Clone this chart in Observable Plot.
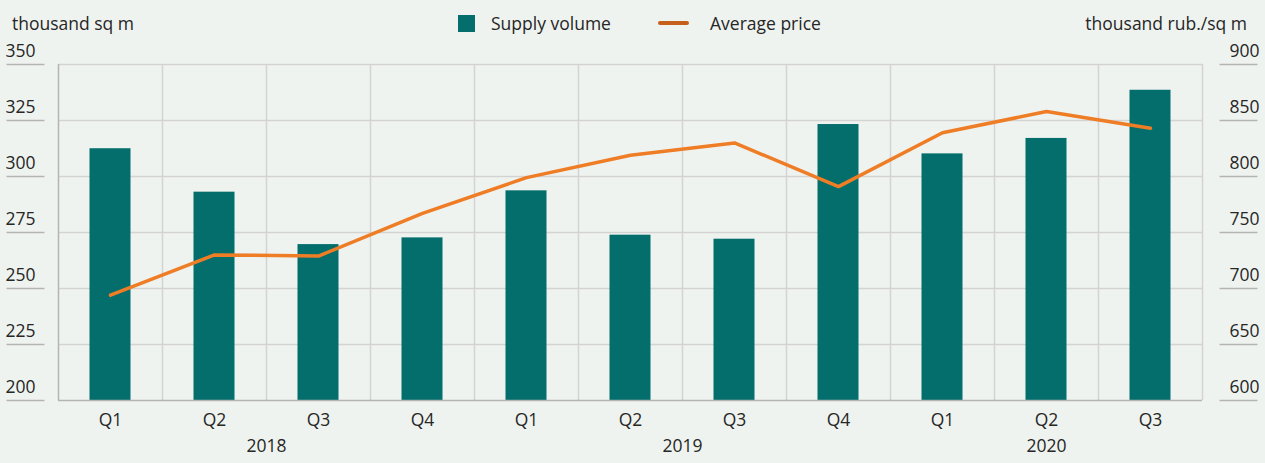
<!DOCTYPE html>
<html>
<head>
<meta charset="utf-8">
<script src="https://cdn.jsdelivr.net/npm/d3@7"></script>
<script src="https://cdn.jsdelivr.net/npm/@observablehq/plot@0.6"></script>
<style>
  html, body { margin: 0; padding: 0; background: #eff3ef; }
  body { width: 1265px; height: 463px; position: relative; overflow: hidden;
         font-family: "Open Sans", "Noto Sans", sans-serif; color: #262626; }
  #header { position: relative; height: 34px; font-size: 17.5px; }
  #header .t { position: absolute; top: 11px; line-height: 24px; white-space: nowrap; }
  #leftTitle { left: 12px; }
  #rightTitle { right: 18px; }
  .sw-bar { position: absolute; left: 458px; top: 15px; width: 17px; height: 17px; }
  .sw-line { position: absolute; left: 658px; top: 21px; width: 31px; height: 4px; border-radius: 2px; }
  #legA { left: 491px; }
  #legB { left: 710px; }
  #chart svg { display: block; overflow: visible; }
</style>
</head>
<body>
<div id="header">
  <div class="t" id="leftTitle"></div>
  <div class="sw-bar" id="swBar"></div>
  <div class="t" id="legA"></div>
  <div class="sw-line" id="swLine"></div>
  <div class="t" id="legB"></div>
  <div class="t" id="rightTitle"></div>
</div>
<div id="chart"></div>
<script>
// ---- data ----
const quarters = ["Q1","Q2","Q3","Q4","Q1","Q2","Q3","Q4","Q1","Q2","Q3"];
const years    = [2018,2018,2018,2018,2019,2019,2019,2019,2020,2020,2020];
const supply   = [312.4, 293.0, 269.6, 272.6, 293.6, 273.8, 272.0, 323.2, 310.1, 317.0, 338.5];
const price    = [694, 730, 729, 767, 799, 819, 830, 791, 839, 858, 843];
const leftTicks  = [200, 225, 250, 275, 300, 325, 350];
const rightTicks = [600, 650, 700, 750, 800, 850, 900];
const leftTitle  = "thousand sq m";
const rightTitle = "thousand rub./sq m";
const seriesNames = ["Supply volume", "Average price"];

const barColor = "#036e6b";
const lineColor = "#ee7d26";
const legendLineColor = "#c75f1c";
const gridColor = "#d3d3d3";
const axisColor = "#b4b4b4";
const textColor = "#262626";
const fs = 17.5;

document.getElementById("leftTitle").textContent = leftTitle;
document.getElementById("rightTitle").textContent = rightTitle;
document.getElementById("legA").textContent = seriesNames[0];
document.getElementById("legB").textContent = seriesNames[1];
document.getElementById("swBar").style.background = barColor;
document.getElementById("swLine").style.background = legendLineColor;

// map right axis (price) onto left scale domain
const pMin = rightTicks[0], pMax = rightTicks[rightTicks.length - 1];
const lMin = leftTicks[0], lMax = leftTicks[leftTicks.length - 1];
const toLeft = p => lMin + (p - pMin) * (lMax - lMin) / (pMax - pMin);
const toRight = v => pMin + (v - lMin) * (pMax - pMin) / (lMax - lMin);

const data = quarters.map((q, i) => ({i, q, year: years[i], supply: supply[i], price: price[i]}));
const yearGroups = d3.groups(data, d => d.year).map(([year, rows]) => ({
  year, center: d3.mean(rows, d => d.i) + 0.5
}));
const n = quarters.length;

const W = 1265, mL = 58, mR = 63;
const frameW = W - mL - mR;
const pxPerUnit = frameW / n;
// underline segments beside the frame, expressed in x-scale units
const leftUL  = [-52 / pxPerUnit, -14 / pxPerUnit];
const rightUL = [n + 17 / pxPerUnit, n + 55 / pxPerUnit];

const plot = Plot.plot({
  width: W,
  height: 429,
  marginLeft: mL,
  marginRight: mR,
  marginTop: 30,
  marginBottom: 63,
  style: {background: "transparent", fontFamily: "'Open Sans', 'Noto Sans', sans-serif", fontSize: fs + "px", color: textColor, overflow: "visible"},
  x: {type: "linear", domain: [0, n], axis: null, label: null},
  y: {domain: [lMin, lMax], axis: null, label: null},
  marks: [
    // horizontal grid
    Plot.ruleY(leftTicks.filter(t => t > lMin), {stroke: gridColor, strokeWidth: 1.5}),
    // vertical grid at category boundaries
    Plot.ruleX(d3.range(1, n + 1), {stroke: gridColor, strokeWidth: 1.5}),
    Plot.ruleX([0], {stroke: axisColor, strokeWidth: 1.5}),
    // bars
    Plot.rectY(data, {x1: d => d.i, x2: d => d.i + 1, y1: () => lMin, y2: d => d.supply,
      fill: barColor, insetLeft: 31.5, insetRight: 31.5}),
    // baseline
    Plot.ruleY([lMin], {stroke: axisColor, strokeWidth: 1.5}),
    // price line
    Plot.line(data, {x: d => d.i + 0.5, y: d => toLeft(d.price), stroke: lineColor,
      strokeWidth: 3.5, strokeLinejoin: "round", strokeLinecap: "round"}),
    // left axis: underlines + labels
    Plot.link(leftTicks, {x1: () => leftUL[0], x2: () => leftUL[1], y1: d => d, y2: d => d,
      stroke: axisColor, strokeWidth: 1.5}),
    Plot.axisY({anchor: "left", ticks: leftTicks, tickSize: 0, textAnchor: "middle", dx: -29, dy: -13,
      tickFormat: d => String(d), fontSize: fs, label: null}),
    // right axis: underlines + labels
    Plot.link(leftTicks, {x1: () => rightUL[0], x2: () => rightUL[1], y1: d => d, y2: d => d,
      stroke: axisColor, strokeWidth: 1.5}),
    Plot.axisY({anchor: "right", ticks: leftTicks, tickSize: 0, textAnchor: "middle", dx: 33, dy: -13,
      tickFormat: d => String(toRight(d)), fontSize: fs, label: null}),
    // x labels (quarters)
    Plot.text(data, {x: d => d.i + 0.5, frameAnchor: "bottom", dy: 25, text: "q", fontSize: fs, fill: textColor}),
    // year labels
    Plot.text(yearGroups, {x: "center", frameAnchor: "bottom", dy: 51, text: d => String(d.year), fontSize: fs, fill: textColor})
  ]
});
document.getElementById("chart").appendChild(plot);
</script>
</body>
</html>
